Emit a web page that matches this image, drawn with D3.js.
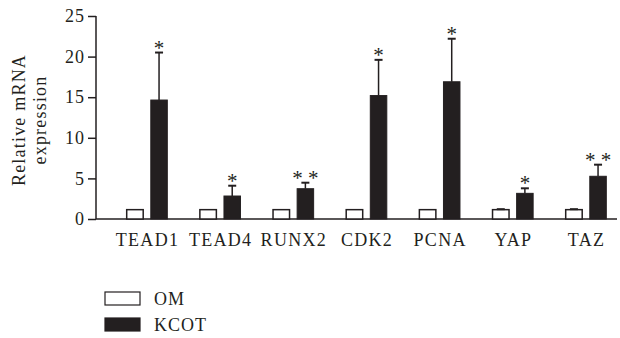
<!DOCTYPE html>
<html>
<head>
<meta charset="utf-8">
<script src="https://cdn.jsdelivr.net/npm/d3@7"></script>
<style>
  body { margin: 0; background: #fff; }
  text { font-family: "Liberation Serif", "DejaVu Serif", serif; fill: #231f20; }
</style>
</head>
<body>
<div id="chart"></div>
<script>
// ------------------------------------------------------------
// Data
// ------------------------------------------------------------
const genes = ["TEAD1", "TEAD4", "RUNX2", "CDK2", "PCNA", "YAP", "TAZ"];
const omValues = [1.15, 1.15, 1.15, 1.15, 1.15, 1.15, 1.15];
const omErr = [0, 0, 0, 0, 0, 0.06, 0.06];
const kcotValues = [14.65, 2.83, 3.73, 15.2, 16.9, 3.16, 5.26];
const kcotErr = [5.85, 1.27, 0.74, 4.4, 5.3, 0.62, 1.43];
const stars = ["*", "*", "* *", "*", "*", "*", "* *"];
const yTicks = [0, 5, 10, 15, 20, 25];
const seriesNames = ["OM", "KCOT"];

// ------------------------------------------------------------
// Layout
// ------------------------------------------------------------
const width = 620;
const height = 338;
const ink = "#231f20";
const serif = '"Liberation Serif", "DejaVu Serif", serif';

const svg = d3.select("#chart")
  .append("svg")
  .attr("width", width)
  .attr("height", height);

const x = d3.scalePoint()
  .domain(genes)
  .range([147, 586]);

const y = d3.scaleLinear()
  .domain([0, 25])
  .range([219, 16]);

const barW = 16.5;
const barGap = 3.8; // half the gap between the two bars

// y axis
const yAxis = svg.append("g")
  .attr("transform", "translate(96,0)")
  .call(d3.axisLeft(y).tickValues(yTicks).tickSize(8).tickPadding(3));
yAxis.select(".domain").attr("stroke", ink).attr("stroke-width", 1.5)
  .attr("d", `M0,${y(25)}V${y(0)}`);
yAxis.selectAll(".tick line").attr("stroke", ink).attr("stroke-width", 1.5);
yAxis.selectAll(".tick text")
  .style("font-family", serif)
  .style("font-size", "18px")
  .style("letter-spacing", "1px")
  .attr("fill", ink);

// x axis (baseline only, labels under groups)
svg.append("line")
  .attr("x1", 96).attr("x2", 617)
  .attr("y1", y(0)).attr("y2", y(0))
  .attr("stroke", ink).attr("stroke-width", 1.5);

const xAxis = svg.append("g")
  .attr("transform", `translate(0,${y(0)})`)
  .call(d3.axisBottom(x).tickSize(0).tickPadding(14));
xAxis.select(".domain").remove();
xAxis.selectAll(".tick text")
  .style("font-family", serif)
  .style("font-size", "18px")
  .style("letter-spacing", "1.3px")
  .attr("fill", ink);

// y label
const yLabel = svg.append("text")
  .attr("transform", "translate(25,120) rotate(-90)")
  .attr("text-anchor", "middle")
  .style("font-size", "18px")
  .style("letter-spacing", "1.2px");
yLabel.append("tspan").attr("x", 0).attr("dy", 0).text("Relative mRNA");
yLabel.append("tspan").attr("x", 0).attr("dy", 21).text("expression");

// ------------------------------------------------------------
// Bars
// ------------------------------------------------------------
const rows = genes.map((g, i) => ({
  gene: g,
  om: omValues[i], omE: omErr[i],
  kcot: kcotValues[i], kcotE: kcotErr[i],
  star: stars[i]
}));

const groups = svg.selectAll("g.group")
  .data(rows)
  .enter()
  .append("g")
  .attr("class", "group")
  .attr("transform", d => `translate(${x(d.gene)},0)`);

// OM bars
groups.append("rect")
  .attr("x", -barGap - barW)
  .attr("width", barW)
  .attr("y", d => y(d.om))
  .attr("height", d => y(0) - y(d.om))
  .attr("fill", "#fff")
  .attr("stroke", ink)
  .attr("stroke-width", 1.5);

// KCOT bars
groups.append("rect")
  .attr("x", barGap)
  .attr("width", barW)
  .attr("y", d => y(d.kcot))
  .attr("height", d => y(0) - y(d.kcot))
  .attr("fill", ink)
  .attr("stroke", ink)
  .attr("stroke-width", 1);

// error bars (upper only)
function errBar(sel, cx, val, err) {
  sel.filter(d => err(d) > 0).append("line")
    .attr("x1", cx).attr("x2", cx)
    .attr("y1", d => y(val(d))).attr("y2", d => y(val(d) + err(d)))
    .attr("stroke", ink).attr("stroke-width", 1.5);
  sel.filter(d => err(d) > 0).append("line")
    .attr("x1", cx - 4).attr("x2", cx + 4)
    .attr("y1", d => y(val(d) + err(d))).attr("y2", d => y(val(d) + err(d)))
    .attr("stroke", ink).attr("stroke-width", 2);
}
errBar(groups, barGap + barW / 2, d => d.kcot, d => d.kcotE);
errBar(groups, -barGap - barW / 2, d => d.om, d => d.omE);

// significance stars
groups.append("text")
  .attr("x", barGap + barW / 2)
  .attr("y", d => y(d.kcot + d.kcotE) + 2)
  .attr("text-anchor", "middle")
  .style("font-size", "21px")
  .text(d => d.star);

// ------------------------------------------------------------
// Legend
// ------------------------------------------------------------
const legend = svg.selectAll("g.legend")
  .data(seriesNames)
  .enter()
  .append("g")
  .attr("class", "legend")
  .attr("transform", (d, i) => `translate(105,${292 + i * 26})`);

legend.append("rect")
  .attr("width", 35)
  .attr("height", 13)
  .attr("fill", (d, i) => i === 0 ? "#fff" : ink)
  .attr("stroke", ink)
  .attr("stroke-width", 1.2);

legend.append("text")
  .attr("x", 49)
  .attr("y", 13)
  .style("font-size", "18px")
  .style("letter-spacing", "1px")
  .text(d => d);
</script>
</body>
</html>
